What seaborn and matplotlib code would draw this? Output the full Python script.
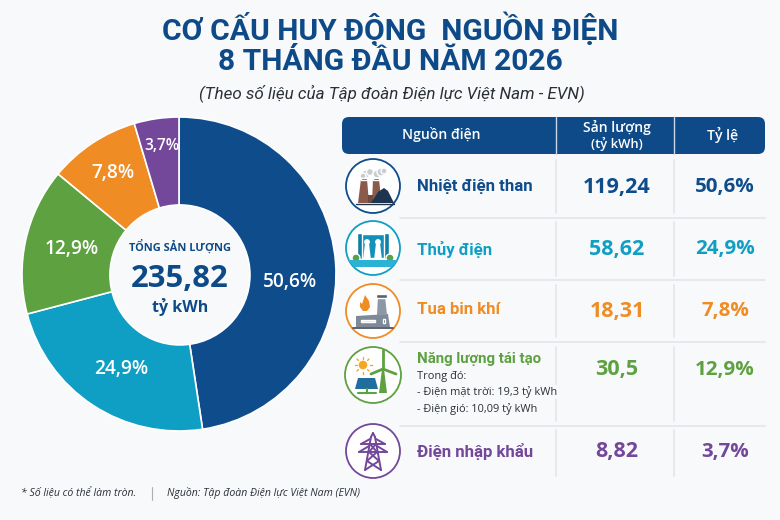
import numpy as np
import seaborn as sns
import matplotlib.pyplot as plt
from matplotlib.patches import Circle, FancyBboxPatch, Polygon, Rectangle

# values as printed in the table
sources = ["Nhiệt điện than", "Thủy điện", "Tua bin khí", "Năng lượng tái tạo", "Điện nhập khẩu"]
volumes = [119.24, 58.62, 18.31, 30.5, 8.82]
shares = [50.6, 24.9, 7.8, 12.9, 3.7]
total = 235.82

# the donut in the picture is not drawn to its labels, these are the slice sizes as read off it
wedge_order = [0, 1, 3, 2, 4]
drawn_sizes = [47.6, 23.3, 15.1, 9.4, 4.6]

renewable_notes = ["Trong đó:", "- Điện mặt trời: 19,3 tỷ kWh", "- Điện gió: 10,09 tỷ kWh"]

NAVY = "#0F4A88"
BG = "#F7F9FA"
LINE = "#E2E6EB"
DARK = "#2B3038"
colors = sns.color_palette(["#0F4C8C", "#109FC4", "#F08C24", "#5EA140", "#73489B"])

sns.set_theme(style="white")
plt.rcParams["font.family"] = ["Open Sans", "Noto Sans", "DejaVu Sans"]

fig = plt.figure(figsize=(7.8, 5.2), dpi=100, facecolor=BG)

# whole figure axes in pixels, y pointing down
px = fig.add_axes([0, 0, 1, 1], zorder=1)
px.set_xlim(0, 780)
px.set_ylim(520, 0)
px.axis("off")


def px_text(x, y, s, size, color=NAVY, weight="bold", ha="center", style="normal", **kw):
    # size is given in pixels
    return px.text(x, y, s, fontsize=size * 0.72, color=color, fontweight=weight, ha=ha,
                   va="center", fontstyle=style, **kw)


def comma(v):
    return str(v).replace(".", ",")


# ------------------------------------------ #
#                   title                    #
# ------------------------------------------ #

px_text(390, 29, "CƠ CẤU HUY ĐỘNG  NGUỒN ĐIỆN", 30, family="Roboto")
px_text(390, 62, "8 THÁNG ĐẦU NĂM 2026", 30, family="Roboto")
px_text(392, 93, "(Theo số liệu của Tập đoàn Điện lực Việt Nam - EVN)", 17, color=DARK,
        weight="normal", style="italic", family="Roboto")

# ------------------------------------------ #
#                   donut                    #
# ------------------------------------------ #

cx, cy, radius, hole = 179, 274, 157, 70

pie_ax = fig.add_axes([(cx - radius) / 780, 1 - (cy + radius) / 520, 2 * radius / 780, 2 * radius / 520],
                      zorder=0)
pie_ax.pie(
    drawn_sizes,
    colors=[colors[i] for i in wedge_order],
    startangle=90,
    counterclock=False,
    radius=1,
    wedgeprops={"edgecolor": "white", "linewidth": 1.2},
)
pie_ax.set_xlim(-1, 1)
pie_ax.set_ylim(-1, 1)
pie_ax.add_artist(Circle((0.006, -0.006), hole / radius, fc=BG, ec="white", lw=1.2, zorder=5))

label_pos = [(290, 282), (121, 369), (72, 249), (113, 173), (162, 146)]
label_size = [19, 19, 19, 19, 15.5]
for i, (x, y), s in zip(wedge_order, label_pos, label_size):
    px_text(x, y, comma(shares[i]) + "%", s, color="white", weight="semibold")

px_text(180, 247, "TỔNG SẢN LƯỢNG", 11)
px_text(180, 279, comma(total), 31)
px_text(180, 307, "tỷ kWh", 16)

# ------------------------------------------ #
#                   table                    #
# ------------------------------------------ #

px.add_patch(FancyBboxPatch((342, 117), 423, 37, boxstyle="round,pad=0,rounding_size=7",
                            fc=NAVY, ec="none"))
for x in (556, 674):
    px.plot([x, x], [117, 154], color="#C9D6E4", lw=1)
px_text(441, 135, "Nguồn điện", 14, color="white", weight="semibold")
px_text(617, 127, "Sản lượng", 14, color="white", weight="semibold")
px_text(617, 144, "(tỷ kWh)", 13, color="white", weight="semibold")
px_text(723, 135, "Tỷ lệ", 14, color="white", weight="semibold")

for y in (218, 280, 342, 426):
    px.plot([400, 765], [y, y], color=LINE, lw=1.2)
for y0, y1 in ((160, 213), (222, 276), (285, 337), (347, 421), (430, 476)):
    for x in (556, 674):
        px.plot([x, x], [y0, y1], color=LINE, lw=1.2)

name_y = [187, 249, 310, 359, 452]
name_size = [16.8, 16.8, 16.8, 15, 16.8]
value_y = [187, 249, 311, 370, 452]
for name, vol, share, col, ny, ns, vy in zip(sources, volumes, shares, colors, name_y, name_size, value_y):
    px_text(417, ny, name, ns, color=col, ha="left", family="Roboto")
    px_text(617, vy, comma(vol), 21.5, color=col)
    px_text(725, vy, comma(share) + "%", 20.5, color=col)

for note, y in zip(renewable_notes, (377, 392, 409)):
    px_text(417, y, note, 11, color=DARK, weight="normal", ha="left", zorder=5,
            bbox={"fc": BG, "ec": "none", "pad": 0.8})


# ------------------------------------------ #
#                   icons                    #
# ------------------------------------------ #

def ring(x, y, r, col):
    px.add_patch(Circle((x, y), r, fc="white", ec=col, lw=1.3, zorder=2))


def poly(x, y, points, col, z=3):
    px.add_patch(Polygon([(x + a, y + b) for a, b in points], fc=col, ec="none", zorder=z))


def coal_icon(x, y):
    ring(x, y, 27, colors[0])
    for dx, dy, r in ((-7, -12, 4), (-3, -14, 3.5), (-10, -10, 3), (4, -12, 4), (8, -14, 4), (11, -15, 3)):
        px.add_patch(Circle((x + dx, y + dy), r, fc="#C9CCD0", zorder=3))
    poly(x, y, [(-12, -7), (-6, -7), (-4, 17), (-15, 17)], "#8A5A4A")
    poly(x, y, [(0, -7), (6, -7), (8, 12), (-1, 17)], "#8A5A4A")
    poly(x, y, [(-5, 9), (0, 9), (0, 17), (-5, 17)], "#6F4A40")
    px.add_patch(Rectangle((x - 12, y - 8), 6, 2, fc="#3E3532", zorder=3))
    px.add_patch(Rectangle((x, y - 8), 6, 2, fc="#3E3532", zorder=3))
    poly(x, y, [(-2, 17), (5, 6), (11, 2), (15, 5), (21, 17)], "#1E3450", 4)
    px.plot([x - 17, x + 21], [y + 17.5, y + 17.5], color="#1E3450", lw=1, zorder=4)


def hydro_icon(x, y):
    ring(x, y, 27, colors[1])
    px.add_patch(Rectangle((x - 16, y - 14), 32, 24, fc="#1590B8", zorder=3))
    px.add_patch(Rectangle((x - 16, y - 15), 5, 26, fc="#0F7FA8", zorder=3))
    px.add_patch(Rectangle((x + 11, y - 15), 5, 26, fc="#0F7FA8", zorder=3))
    for dx in (-6, 5):
        px.add_patch(Circle((x + dx, y - 6), 2.2, fc="white", zorder=4))
        poly(x, y, [(dx - 2, -5), (dx + 2, -5), (dx + 4, 12), (dx - 4, 12)], "white", 4)
    for dx in (-17, 17):
        px.add_patch(Circle((x + dx, y + 10), 4, fc="#5EA140", zorder=3))
    poly(x, y, [(-25, 12), (25, 12), (19, 19), (-19, 19)], "#2BB3D6", 4)


def gas_icon(x, y):
    ring(x, y, 27, colors[2])
    poly(x, y, [(-17, 5), (15, 3), (17, 16), (-17, 16)], "#7F8A99")
    poly(x, y, [(4, 4), (5, -15), (12, -15), (14, 4)], "#8D98A6")
    px.add_patch(Rectangle((x + 3, y - 17), 11, 4, fc="#56616F", zorder=3))
    px.add_patch(Rectangle((x - 12, y + 9), 14, 1.5, fc="#DDE1E6", zorder=4))
    px.add_patch(Rectangle((x + 10, y + 8), 2, 4, fc="#3F4956", zorder=4))
    px.plot([x - 20, x + 20], [y + 17, y + 17], color="#3F4956", lw=1.2, zorder=4)
    poly(x, y, [(-8, -16), (-4, -10), (-3, -4), (-6, 0), (-10, 0), (-13, -4), (-13, -9), (-11, -7)], colors[2], 4)


def renewable_icon(x, y):
    ring(x, y, 28, colors[3])
    px.add_patch(Circle((x - 10, y - 10), 5, fc="#F5A623", zorder=3))
    for a in np.arange(0, 360, 45):
        c, s = np.cos(np.radians(a)), np.sin(np.radians(a))
        px.plot([x - 10 + 6.5 * c, x - 10 + 8.5 * c], [y - 10 + 6.5 * s, y - 10 + 8.5 * s],
                color="#F5A623", lw=1, zorder=3)
    poly(x, y, [(-15, 3), (2, 3), (5, 14), (-18, 14)], "#1F6E9E")
    px.plot([x - 6, x - 6], [y + 14, y + 18], color=colors[3], lw=1.5, zorder=3)
    px.plot([x - 15, x + 3], [y + 18, y + 18], color=colors[3], lw=1.5, zorder=3)
    poly(x, y, [(6, 18), (9, -6), (11, -6), (14, 18)], colors[3])
    for dx, dy in ((0, -19), (-12, 5), (13, 5)):
        px.plot([x + 10, x + 10 + dx], [y - 6, y - 6 + dy], color=colors[3], lw=2, zorder=3)


def pylon_icon(x, y):
    ring(x, y, 27, colors[4])
    segs = [((-2, -14), (-8, 19)), ((2, -14), (8, 19)), ((0, -18), (-2, -14)), ((0, -18), (2, -14)),
            ((-12, -7), (12, -7)), ((-14, 1), (14, 1)), ((-12, -7), (-3, -12)), ((12, -7), (3, -12)),
            ((-14, 1), (-4, -5)), ((14, 1), (4, -5)), ((-3, -7), (4, 1)), ((3, -7), (-4, 1)),
            ((-4, 1), (6, 10)), ((4, 1), (-6, 10)), ((-6, 10), (8, 19)), ((6, 10), (-8, 19))]
    for (a, b), (d, e) in segs:
        px.plot([x + a, x + d], [y + b, y + e], color=colors[4], lw=1.4, zorder=3)


coal_icon(373, 186)
hydro_icon(373, 248)
gas_icon(373, 311)
renewable_icon(373, 375)
pylon_icon(373, 451)

# ------------------------------------------ #
#                   footer                   #
# ------------------------------------------ #

px_text(21, 493, "* Số liệu có thể làm tròn.", 10.5, color=DARK, weight="normal", ha="left", style="italic")
px.plot([152, 152], [487, 500], color="#A9AFB7", lw=0.8)
px_text(167, 493, "Nguồn: Tập đoàn Điện lực Việt Nam (EVN)", 10.5, color=DARK, weight="normal", ha="left",
        style="italic")

fig.savefig("out.png", dpi=100, facecolor=BG)
